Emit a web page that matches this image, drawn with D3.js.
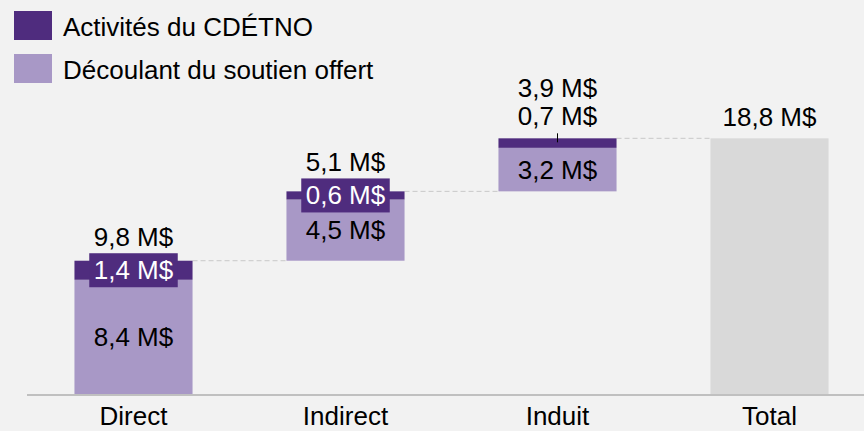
<!DOCTYPE html>
<html><head><meta charset="utf-8">
<script src="https://cdn.jsdelivr.net/npm/d3@7/dist/d3.min.js"></script>
<style>
html,body{margin:0;padding:0;background:#f2f2f2;}
svg{display:block;font-family:"Liberation Sans",Arial,sans-serif;}
</style></head>
<body>
<svg id="chart" width="864" height="431"></svg>
<script>
const categories = ["Direct", "Indirect", "Induit", "Total"];
const derivedValues = [8.4, 4.5, 3.2];      // Découlant du soutien offert
const cdetnoValues  = [1.4, 0.6, 0.7];      // Activités du CDÉTNO
const stepTotals    = [9.8, 5.1, 3.9];
const grandTotal    = 18.8;
const legendLabels  = ["Activités du CDÉTNO", "Découlant du soutien offert"];
const cdetnoLabelInside = [true, true, false];

const colDark = "#4f2c7e", colLight = "#a898c6", colTotal = "#d9d9d9";
const fmt = v => d3.format(".1f")(v).replace(".", ",") + " M$";

const svg = d3.select("#chart");
const x = d3.scaleBand().domain(categories).range([27.5, 875.5]).paddingInner(0.443).paddingOuter(0.2215);
const y = d3.scaleLinear().domain([0, 20]).range([394, 122]);
const FS = 26;

// build waterfall segments
let cum = 0;
const steps = derivedValues.map((d, i) => {
  const start = cum;
  const mid = start + d;
  const end = mid + cdetnoValues[i];
  cum = end;
  return {cat: categories[i], start, mid, end, derived: d, cdetno: cdetnoValues[i], total: stepTotals[i], inside: cdetnoLabelInside[i]};
});

// connectors
const conns = steps.map((s, i) => ({x1: x(s.cat) + x.bandwidth(), x2: x(categories[i + 1]), v: s.end}));
svg.append("g").selectAll("line").data(conns).join("line")
  .attr("x1", d => d.x1).attr("x2", d => d.x2)
  .attr("y1", d => y(d.v)).attr("y2", d => y(d.v))
  .attr("stroke", "#c8c8c8").attr("stroke-width", 1).attr("stroke-dasharray", "5,3");

// bars
const g = svg.append("g");
g.selectAll("rect.light").data(steps).join("rect").attr("class", "light")
  .attr("x", d => x(d.cat)).attr("width", x.bandwidth())
  .attr("y", d => y(d.mid)).attr("height", d => y(d.start) - y(d.mid))
  .attr("fill", colLight);
g.selectAll("rect.dark").data(steps).join("rect").attr("class", "dark")
  .attr("x", d => x(d.cat)).attr("width", x.bandwidth())
  .attr("y", d => y(d.end)).attr("height", d => y(d.mid) - y(d.end))
  .attr("fill", colDark);
g.append("rect")
  .attr("x", x("Total")).attr("width", x.bandwidth())
  .attr("y", y(grandTotal)).attr("height", y(0) - y(grandTotal))
  .attr("fill", colTotal);

// axis line
svg.append("line").attr("x1", 27).attr("x2", 864).attr("y1", 395).attr("y2", 395)
  .attr("stroke", "#c0c0c0").attr("stroke-width", 2);

// category labels
svg.append("g").selectAll("text").data(categories).join("text")
  .attr("x", d => x(d) + x.bandwidth() / 2).attr("y", 425)
  .attr("text-anchor", "middle").attr("font-size", FS).attr("fill", "#000").text(d => d);

// labels
const lab = svg.append("g").attr("font-size", FS).attr("text-anchor", "middle");
steps.forEach(s => {
  const cx = x(s.cat) + x.bandwidth() / 2;
  // derived label in the middle of light segment
  lab.append("text").attr("x", cx).attr("y", (y(s.start) + y(s.mid)) / 2 + 9.3)
    .attr("fill", "#000").text(fmt(s.derived));
  if (s.inside) {
    const cy = (y(s.mid) + y(s.end)) / 2;
    const t = lab.append("text").attr("x", cx).attr("y", cy + 9).attr("fill", "#fff").text(fmt(s.cdetno));
    const w = t.node().getComputedTextLength() + 9;
    lab.insert("rect", () => t.node()).attr("x", cx - w / 2).attr("width", w)
      .attr("y", cy - 17).attr("height", 34).attr("fill", colDark);
    lab.append("text").attr("x", cx).attr("y", cy - 24).attr("fill", "#000").text(fmt(s.total));
  } else {
    const top = y(s.end);
    lab.append("line").attr("x1", cx).attr("x2", cx).attr("y1", top - 5).attr("y2", top + 4)
      .attr("stroke", "#000").attr("stroke-width", 1);
    lab.append("text").attr("x", cx).attr("y", top - 13).attr("fill", "#000").text(fmt(s.cdetno));
    lab.append("text").attr("x", cx).attr("y", top - 41).attr("fill", "#000").text(fmt(s.total));
  }
});
lab.append("text").attr("x", x("Total") + x.bandwidth() / 2).attr("y", y(grandTotal) - 12)
  .attr("fill", "#000").text(fmt(grandTotal));

// legend
const leg = svg.append("g").selectAll("g").data(legendLabels).join("g")
  .attr("transform", (d, i) => `translate(14,${11 + i * 43})`);
leg.append("rect").attr("width", 38).attr("height", 29).attr("fill", (d, i) => i === 0 ? colDark : colLight);
leg.append("text").attr("x", 49).attr("y", 25).attr("font-size", FS).attr("fill", "#000").text(d => d);
</script>
</body></html>
